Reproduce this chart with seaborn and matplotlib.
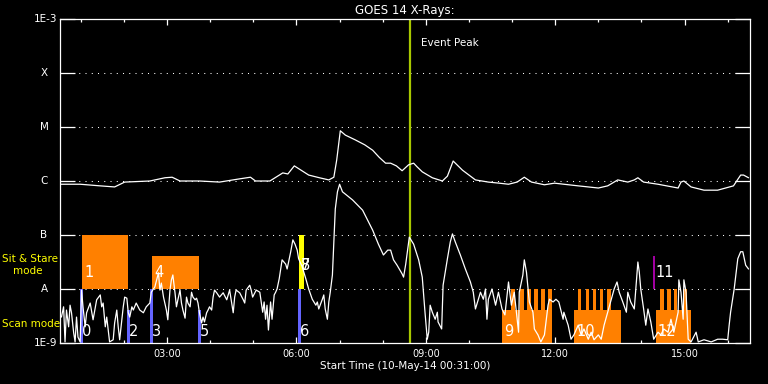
import matplotlib
matplotlib.use("Agg")
import matplotlib.pyplot as plt
import matplotlib.dates as mdates
from matplotlib.ticker import NullLocator
import numpy as np
import pandas as pd
import seaborn as sns

# ---------------- data ----------------
START = pd.Timestamp("2014-05-10 00:31:00")
SPAN_HOURS = 16
PEAK_MIN = 487  # event peak, minutes after start

# GOES 1-8 A (minutes after start, log10 flux W/m^2)
long_min = [0, 28, 56, 76, 90, 125, 146, 156, 167, 194,
            222, 250, 265, 272, 292, 310, 317, 326, 346, 361,
            374, 381, 385, 390, 397, 411, 424, 435, 444, 453,
            460, 468, 476, 485, 492, 497, 504, 518, 532, 539,
            547, 560, 578, 596, 611, 624, 636, 646, 656, 674,
            688, 701, 721, 749, 762, 776, 790, 799, 804, 812,
            832, 860, 864, 868, 878, 896, 915, 937, 947, 951,
            958]
long_log = [-6.06, -6.06, -6.09, -6.11, -6.02, -6.00, -5.94, -5.93, -6.00, -6.00,
            -6.02, -5.96, -5.93, -6.00, -6.00, -5.85, -5.87, -5.72, -5.89, -5.94,
            -5.98, -5.93, -5.61, -5.07, -5.15, -5.24, -5.33, -5.43, -5.56, -5.67,
            -5.67, -5.72, -5.81, -5.70, -5.67, -5.74, -5.83, -5.94, -6.00, -5.91,
            -5.63, -5.80, -5.98, -6.02, -6.04, -6.06, -6.02, -5.93, -6.02, -6.07,
            -6.04, -6.06, -6.09, -6.13, -6.09, -5.98, -6.02, -5.98, -5.94, -6.02,
            -6.06, -6.13, -6.02, -6.00, -6.11, -6.17, -6.17, -6.09, -5.89, -5.89,
            -5.94]

# GOES 0.5-4 A
short_min = [2, 5, 7, 9, 12, 14, 16, 19, 21, 23,
             25, 28, 30, 32, 35, 37, 42, 46, 51, 56,
             58, 60, 63, 65, 69, 74, 76, 79, 81, 83,
             86, 88, 90, 93, 95, 97, 100, 102, 106, 111,
             116, 120, 125, 127, 132, 137, 139, 141, 144, 148,
             150, 153, 155, 157, 160, 162, 164, 167, 169, 171,
             174, 176, 178, 181, 183, 185, 188, 190, 192, 194,
             197, 199, 201, 204, 206, 208, 211, 213, 215, 218,
             222, 227, 232, 236, 241, 243, 245, 250, 255, 257,
             259, 264, 266, 268, 273, 278, 282, 284, 286, 288,
             290, 293, 295, 298, 300, 302, 305, 307, 309, 314,
             316, 318, 321, 324, 327, 330, 332, 337, 342, 346,
             351, 356, 358, 360, 365, 367, 369, 372, 374, 376,
             379, 381, 383, 386, 389, 393, 407, 421, 435, 443,
             450, 456, 460, 464, 469, 476, 478, 481, 486, 492,
             499, 504, 508, 511, 513, 515, 518, 522, 525, 526,
             531, 533, 539, 543, 546, 550, 557, 564, 571, 575,
             578, 581, 585, 589, 592, 594, 596, 601, 606, 610,
             615, 619, 624, 628, 632, 635, 638, 639, 644, 646,
             649, 653, 658, 660, 665, 669, 674, 679, 681, 686,
             690, 694, 700, 701, 707, 711, 715, 721, 725, 729,
             735, 739, 743, 749, 753, 757, 762, 767, 771, 775,
             778, 783, 788, 790, 794, 799, 804, 806, 808, 812,
             815, 818, 822, 826, 832, 836, 840, 846, 850, 854,
             860, 861, 864, 867, 868, 871, 874, 878, 885, 888,
             896, 906, 915, 922, 929, 931, 933, 938, 943, 947,
             950, 954, 958]
short_log = [-8.52, -8.33, -8.98, -8.39, -8.70, -8.30, -8.44, -8.81, -8.98, -8.52,
             -8.89, -8.98, -8.02, -8.33, -8.70, -8.44, -8.26, -8.57, -8.20, -8.11,
             -8.33, -8.26, -8.70, -8.52, -8.98, -8.94, -8.63, -8.39, -8.70, -8.94,
             -8.57, -8.33, -8.15, -8.17, -8.44, -8.52, -8.33, -8.39, -8.26, -8.39,
             -8.44, -8.33, -8.26, -8.06, -7.96, -7.70, -8.02, -7.89, -8.15, -8.39,
             -8.57, -8.02, -7.83, -7.74, -8.07, -8.33, -8.20, -8.02, -8.26, -8.39,
             -8.54, -8.15, -8.26, -8.33, -8.06, -8.15, -8.20, -8.17, -8.26, -8.44,
             -8.63, -8.52, -8.61, -8.44, -8.39, -8.33, -8.39, -8.15, -8.02, -8.07,
             -8.15, -8.07, -8.20, -8.02, -8.44, -8.15, -8.02, -8.07, -8.20, -8.26,
             -8.02, -7.93, -8.02, -8.15, -8.02, -8.06, -8.43, -8.24, -8.56, -8.30,
             -8.76, -8.24, -8.56, -8.11, -8.06, -8.00, -7.81, -7.63, -7.46, -7.54,
             -7.63, -7.50, -7.31, -7.09, -7.17, -7.28, -7.44, -7.59, -7.81, -8.00,
             -8.19, -8.30, -8.24, -8.37, -8.19, -8.11, -8.37, -8.56, -8.24, -8.06,
             -7.74, -7.13, -6.52, -6.20, -6.06, -6.20, -6.35, -6.54, -6.91, -7.17,
             -7.37, -7.28, -7.28, -7.46, -7.56, -7.72, -7.78, -7.54, -7.04, -7.17,
             -7.46, -7.78, -8.46, -8.93, -8.80, -8.30, -8.43, -8.56, -8.43, -8.61,
             -8.74, -7.93, -7.44, -7.13, -6.98, -7.13, -7.37, -7.63, -7.87, -8.06,
             -8.37, -8.24, -8.06, -8.19, -8.00, -8.56, -8.19, -8.00, -8.30, -8.06,
             -8.37, -8.48, -7.87, -8.30, -8.06, -8.43, -8.80, -8.06, -7.74, -7.46,
             -7.69, -8.24, -8.43, -8.74, -8.85, -8.98, -8.85, -8.30, -8.19, -8.24,
             -8.19, -8.24, -8.56, -8.43, -8.67, -8.93, -8.85, -8.67, -8.85, -8.74,
             -8.93, -8.80, -8.94, -8.85, -8.93, -8.67, -8.43, -8.19, -8.00, -7.87,
             -8.06, -8.24, -8.43, -8.06, -8.24, -8.37, -7.50, -7.69, -8.00, -8.37,
             -8.67, -8.37, -8.61, -8.93, -8.80, -8.85, -8.74, -8.80, -8.56, -8.80,
             -8.43, -7.83, -8.06, -8.56, -7.83, -8.06, -8.93, -8.98, -8.80, -8.98,
             -8.94, -8.98, -8.93, -8.93, -8.94, -8.67, -8.43, -8.00, -7.44, -7.31,
             -7.31, -7.56, -7.63]

level_values = [1e-9, 1e-8, 1e-7, 1e-6, 1e-5, 1e-4, 1e-3]
level_labels = ["1E-9", "A", "B", "C", "M", "X", "1E-3"]

# Sit & Stare observations (minutes after start)
stare_labels = ["1", "4"]
stare_start = [31, 128]
stare_end = [94, 193]
stare_top = [1e-7, 4.1e-8]

# Scan-mode observations
scan_labels = ["0", "2", "3", "5", "6"]
scan_start = [28, 93, 125, 192, 331]
scan_end = [32, 97, 129, 196, 335]
scan_top = [1e-8, 4.1e-9, 1e-8, 4.1e-9, 1e-8]

# Raster groups (body + teeth)
raster_labels = ["9", "10", "12"]
raster_start = [615, 715, 829]
raster_end = [685, 781, 878]
raster_top = 4.1e-9
tooth_start = [628, 640, 650, 660, 669, 679, 721, 732, 742, 751, 761, 835, 844, 854, 867]
tooth_end = [633, 646, 656, 665, 675, 685, 725, 736, 746, 756, 767, 840, 850, 858, 872]

# Other observations
yellow_labels = ["7", "8"]
yellow_start, yellow_end = 333, 339
yellow_range = (1e-8, 1e-7)
magenta_label = "11"
magenta_min = 826
magenta_range = (1e-8, 4.1e-8)

# ---------------- styling ----------------
sns.set_style("dark")
plt.rcParams["font.family"] = ["DejaVu Sans"]
WHITE = "white"
ORANGE = "#ff8000"
BLUE = "#6464ff"
YELLOW = "#ffff00"
MAGENTA = "#c000c0"
PEAKC = "#a8c800"


def tm(m):
    return mdates.date2num((START + pd.Timedelta(minutes=float(m))).to_pydatetime())


fig = plt.figure(figsize=(7.68, 3.84), dpi=100, facecolor="black")
ax = fig.add_axes([60 / 768, 41 / 384, 690 / 768, 324 / 384])
ax.set_facecolor("black")

long_df = pd.DataFrame({"time": [START + pd.Timedelta(minutes=m) for m in long_min],
                        "flux": np.power(10.0, long_log)})
short_df = pd.DataFrame({"time": [START + pd.Timedelta(minutes=m) for m in short_min],
                         "flux": np.power(10.0, short_log)})

# observation boxes
for s, e, t in zip(stare_start, stare_end, stare_top):
    ax.bar(tm(s), t - 1e-8, bottom=1e-8, width=tm(e) - tm(s), align="edge",
           color=ORANGE, linewidth=0, zorder=1)
for s, e in zip(raster_start, raster_end):
    ax.bar(tm(s), raster_top - 1e-9, bottom=1e-9, width=tm(e) - tm(s), align="edge",
           color=ORANGE, linewidth=0, zorder=1)
for s, e in zip(tooth_start, tooth_end):
    ax.bar(tm(s), 1e-8 - 1e-9, bottom=1e-9, width=tm(e) - tm(s), align="edge",
           color=ORANGE, linewidth=0, zorder=1)
for s, e, t in zip(scan_start, scan_end, scan_top):
    ax.bar(tm(s), t - 1e-9, bottom=1e-9, width=tm(e) - tm(s), align="edge",
           color=BLUE, linewidth=0, zorder=1.5)
ax.bar(tm(yellow_start), yellow_range[1] - yellow_range[0], bottom=yellow_range[0],
       width=tm(yellow_end) - tm(yellow_start), align="edge", color=YELLOW,
       linewidth=0, zorder=1.5)
ax.vlines(tm(magenta_min), magenta_range[0], magenta_range[1], color=MAGENTA,
          lw=1.2, zorder=1.5)

# curves
sns.lineplot(data=long_df, x="time", y="flux", ax=ax, color=WHITE, lw=0.9,
             estimator=None, sort=False, zorder=3)
sns.lineplot(data=short_df, x="time", y="flux", ax=ax, color=WHITE, lw=0.9,
             estimator=None, sort=False, zorder=3)

ax.set_yscale("log")
ax.set_ylim(1e-9, 1e-3)
ax.set_xlim(tm(0), tm(SPAN_HOURS * 60))

# dotted level lines
for v in level_values[1:-1]:
    ax.axhline(v, color=WHITE, lw=0.75, ls=(0, (1, 5)), zorder=0.5)

# event peak
ax.axvline(tm(PEAK_MIN), color=PEAKC, lw=1.6, zorder=2)
ax.annotate("Event Peak", xy=(tm(PEAK_MIN), 1.0), xycoords=("data", "axes fraction"),
            xytext=(8, -17.5), textcoords="offset points", color=WHITE,
            fontsize=7.5, ha="left", va="center")

# observation labels
lab_kw = dict(textcoords="offset points", color=WHITE, fontsize=10.5,
              ha="left", va="center", zorder=5)
for l, s in zip(stare_labels, stare_start):
    ax.annotate(l, xy=(tm(s), 2e-8), xytext=(1.5, 0), **lab_kw)
for l, s in zip(scan_labels, scan_start):
    ax.annotate(l, xy=(tm(s), 1.6e-9), xytext=(1.5, 0), **lab_kw)
for l, s in zip(raster_labels, raster_start):
    ax.annotate(l, xy=(tm(s), 1.6e-9), xytext=(1.5, 0), **lab_kw)
for l in yellow_labels:
    ax.annotate(l, xy=(tm(yellow_start), 2.7e-8), xytext=(1.0, 0), **lab_kw)
ax.annotate(magenta_label, xy=(tm(magenta_min), 2e-8), xytext=(1.2, 0), **lab_kw)

# axes styling
for sp in ax.spines.values():
    sp.set_color(WHITE)
    sp.set_linewidth(0.9)
ax.grid(False)

ax.xaxis.set_major_locator(mdates.HourLocator(byhour=range(0, 24, 3)))
ax.xaxis.set_minor_locator(mdates.HourLocator())
ax.xaxis.set_major_formatter(mdates.DateFormatter("%H:%M"))
ax.tick_params(axis="x", which="major", direction="in", length=4.5, width=0.9,
               top=True, bottom=True, colors=WHITE, labelsize=7, pad=4)
ax.tick_params(axis="x", which="minor", direction="in", length=2.5, width=0.9,
               top=True, bottom=True, colors=WHITE)

ax.set_yticks(level_values)
ax.yaxis.set_minor_locator(NullLocator())
ax.tick_params(axis="y", which="major", direction="in", length=10.8, width=0.9,
               left=True, right=True, colors=WHITE, labelleft=False)
for v, l in zip(level_values, level_labels):
    if l.startswith("1E"):
        ax.annotate(l, xy=(0, v), xycoords=("axes fraction", "data"), xytext=(-2.2, 0),
                    textcoords="offset points", ha="right", va="center",
                    color=WHITE, fontsize=7.5)
    else:
        ax.annotate(l, xy=(0, v), xycoords=("axes fraction", "data"), xytext=(-11.5, 0),
                    textcoords="offset points", ha="center", va="center",
                    color=WHITE, fontsize=7.5)

ax.set_xlabel("Start Time (10-May-14 00:31:00)", color=WHITE, fontsize=7.5, labelpad=2)
ax.set_ylabel("")
ax.set_title("GOES 14 X-Rays:", color=WHITE, fontsize=8.5, pad=3.5)

fig.text(2 / 768, 1 - 259 / 384, "Sit & Stare", color=YELLOW, fontsize=7.5,
         ha="left", va="center")
fig.text(13 / 768, 1 - 271 / 384, "mode", color=YELLOW, fontsize=7.5,
         ha="left", va="center")
fig.text(2 / 768, 1 - 324 / 384, "Scan mode", color=YELLOW, fontsize=7.5,
         ha="left", va="center")

fig.savefig("out.png", dpi=100, facecolor="black")
